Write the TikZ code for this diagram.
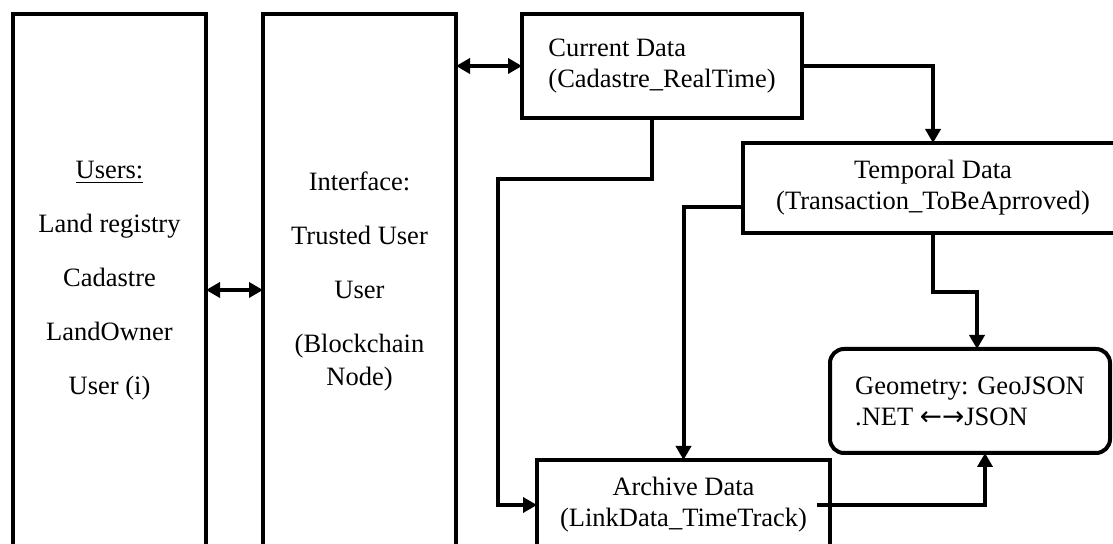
\documentclass[tikz,border=0pt]{standalone}
\usepackage{fontspec}
\setmainfont{Liberation Serif}
\newfontfamily\arrowfont{DejaVu Sans}
\usepackage{tikz}
\usetikzlibrary{arrows.meta, positioning}
\tikzset{
  boxtall/.style={
    rectangle, draw=black, line width=2pt,
    font=\fontsize{13.25}{15.5}\selectfont,
    align=center, inner sep=0pt, outer sep=0pt,
    minimum width=96.5pt, minimum height=267pt
  },
  boxdata/.style={
    rectangle, draw=black, line width=2pt,
    font=\fontsize{13.25}{15.5}\selectfont,
    align=center, inner sep=0pt, outer sep=0pt,
    minimum height=45pt
  },
  boxcurrent/.style={
    rectangle, draw=black, line width=2pt,
    font=\fontsize{13.25}{15.5}\selectfont,
    align=left, inner sep=0pt, outer sep=0pt,
    minimum width=140pt, minimum height=52pt
  },
  boxround/.style={
    rectangle, rounded corners=7pt, draw=black, line width=2pt,
    font=\fontsize{13.25}{15.5}\selectfont,
    align=left, inner sep=0pt, outer sep=0pt,
    minimum width=140pt, minimum height=52pt
  },
  line/.style={draw=black, line width=2pt},
  arrowline/.style={line, -{Triangle[length=7pt,width=7.5pt]}},
  twoway/.style={line, {Triangle[length=7pt,width=7.5pt]}-{Triangle[length=7pt,width=7.5pt]}}
}

\begin{document}
\begin{tikzpicture}

  \useasboundingbox (0,0) rectangle (556.5pt,-272pt);
  \clip (0,0) rectangle (556.5pt,-272pt);

  \node[boxtall, anchor=north west] (users) at (6.5pt,-7pt)
    {\underline{Users:}\\[11.5pt]Land registry\\[11.5pt]Cadastre\\[11.5pt]LandOwner\\[11.5pt]User (i)};
  \node[boxtall, right=28.5pt of users] (interface)
    {Interface:\\[11.5pt]Trusted User\\[11.5pt]User\\[11.5pt](Blockchain\\[1pt]Node)};

  \node[boxcurrent, right=33pt of interface.north east, anchor=north west] (current)
    {Current Data\\(Cadastre\_RealTime)};
  \node[boxdata, minimum width=190pt, below=12.5pt of current.south east, anchor=north west, xshift=-29.5pt] (temporal)
    {Temporal Data\\(Transaction\_ToBeAprroved)};
  \node[boxround, below=58pt of temporal.south west, anchor=north west, xshift=43.5pt] (geometry)
    {Geometry: GeoJSON\\.NET {\arrowfont ←→}JSON};
  \node[boxdata, minimum width=146.5pt, below=3.5pt of geometry.south west, anchor=north east] (archive)
    {Archive Data\\(LinkData\_TimeTrack)};

  % --- connexions ---
  \draw[twoway] ([yshift=-4.5pt]users.east) -- ([yshift=-4.5pt]interface.west);
  \draw[twoway] (current.west -| interface.east) -- (current.west);
  \draw[arrowline] (current.east) -| (temporal.north);
  \draw[arrowline] ([xshift=-5pt]current.south) |- ++(-77pt,-30.5pt) |- (archive.west);
  \draw[arrowline] ([yshift=-9.5pt]temporal.west) -| (archive.north);
  \draw[arrowline] (temporal.south) -- ++(0,-29.5pt) -| ([xshift=3.5pt]geometry.north);
  \draw[arrowline] ([xshift=-6.5pt]archive.east) -| ([xshift=7.5pt]geometry.south);

\end{tikzpicture}
\end{document}
